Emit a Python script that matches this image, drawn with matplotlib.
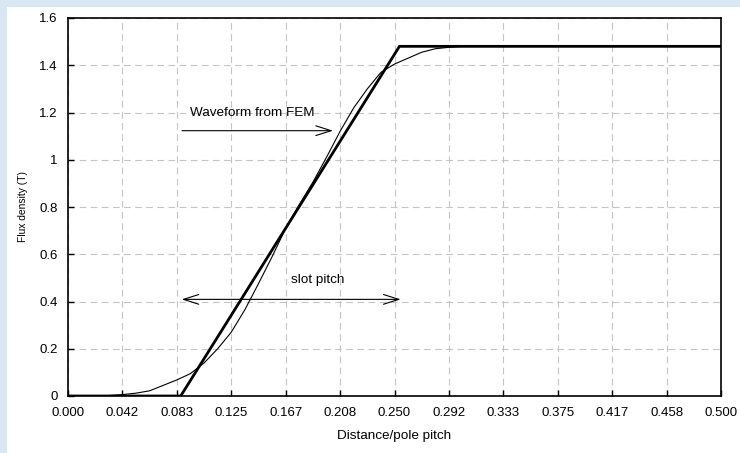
import matplotlib
matplotlib.use("Agg")
import matplotlib.pyplot as plt
from matplotlib.patches import Rectangle
from matplotlib.ticker import FuncFormatter

plt.rcParams['font.family'] = ['Liberation Sans', 'DejaVu Sans']

# idealised trapezoidal flux wave (distance/pole pitch, T)
ideal_x = [0.0, 0.0863, 0.2538, 0.5]
ideal_b = [0.0, 0.0, 1.48, 1.48]

# flux density from the FE solution
fem_x = [0.0, 0.0104, 0.0208, 0.0313, 0.0417, 0.0521, 0.0625, 0.0729, 0.0833,
         0.0938, 0.1042, 0.1146, 0.125, 0.1354, 0.1458, 0.1563, 0.1667, 0.1771,
         0.1875, 0.1979, 0.2083, 0.2188, 0.2292, 0.2396, 0.25, 0.2604, 0.2708,
         0.2813, 0.2917, 0.3021, 0.35, 0.4, 0.45, 0.5]
fem_b = [0.0, 0.0, 0.0, 0.002, 0.006, 0.012, 0.022, 0.045, 0.068,
         0.095, 0.14, 0.2, 0.27, 0.365, 0.475, 0.59, 0.71, 0.81,
         0.905, 1.01, 1.12, 1.22, 1.30, 1.37, 1.405, 1.43, 1.455,
         1.47, 1.476, 1.48, 1.48, 1.48, 1.48, 1.48]

x_ticks = [i / 24 for i in range(13)]
y_ticks = [0, 0.2, 0.4, 0.6, 0.8, 1.0, 1.2, 1.4, 1.6]

fig = plt.figure(figsize=(7.4, 4.53), dpi=100, facecolor="#d9e7f3")
fig.patches.append(Rectangle((7 / 740, 0), 1, 1 - 7 / 453, transform=fig.transFigure,
                             facecolor="white", edgecolor="none", zorder=-10))
ax = fig.add_axes([68 / 740, 1 - 396 / 453, 653 / 740, 378 / 453])
ax.set_facecolor("white")

ax.plot(fem_x, fem_b, color="black", lw=0.8, zorder=3)
ax.plot(ideal_x, ideal_b, color="black", lw=2.0, zorder=4, solid_joinstyle="miter")

ax.set_xlim(0, 0.5)
ax.set_ylim(0, 1.6)
ax.set_xticks(x_ticks)
ax.set_yticks(y_ticks)
ax.xaxis.set_major_formatter(FuncFormatter(lambda v, p: f"{v:.3f}"))
ax.yaxis.set_major_formatter(FuncFormatter(lambda v, p: f"{v:g}"))
ax.tick_params(direction="in", length=4, width=1, labelsize=9.5)
ax.tick_params(axis="x", pad=8)
ax.tick_params(axis="y", pad=7.5)
ax.grid(True, color="#c4c4c4", linestyle=(0, (6, 4)), linewidth=0.8)
ax.set_axisbelow(True)
for s in ax.spines.values():
    s.set_linewidth(1.2)

ax.set_xlabel("Distance/pole pitch", fontsize=9.7, labelpad=8)
ax.set_ylabel("Flux density (T)", fontsize=7.4, labelpad=8)

# annotations
ax.text(0.0934, 1.198, "Waveform from FEM", fontsize=9.7, va="center", ha="left")
ax.annotate("", xy=(0.2029, 1.123), xytext=(0.0873, 1.123),
            arrowprops=dict(arrowstyle="->,head_length=1.1,head_width=0.35",
                            color="black", lw=0.8, shrinkA=0, shrinkB=0))
ax.annotate("", xy=(0.2547, 0.409), xytext=(0.0870, 0.409),
            arrowprops=dict(arrowstyle="<->,head_length=1.1,head_width=0.35",
                            color="black", lw=0.8, shrinkA=0, shrinkB=0))
ax.text(0.1914, 0.491, "slot pitch", fontsize=9.7, va="center", ha="center")

fig.savefig("out.png", dpi=100, facecolor=fig.get_facecolor())
